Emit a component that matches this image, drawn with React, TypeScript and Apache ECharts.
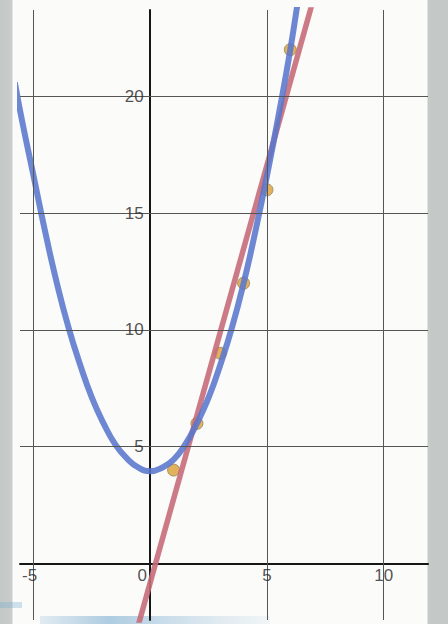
import React, { useEffect, useRef } from "react";
import * as echarts from "echarts";

// Observed data points (x, y)
const pointX = [1, 2, 3, 4, 5, 6];
const pointY = [4, 6, 9, 12, 16, 22];

// Blue fitted curve
const curveX = [-5.8, -5.5, -5, -4.5, -4, -3.5, -3, -2.5, -2, -1.5, -1, -0.5, 0, 0.5, 1, 1.5, 2, 2.5, 3, 3.5, 4, 4.5, 5, 5.5, 6, 6.4];
const curveY = [20.6, 19.0, 16.6, 14.2, 12, 10.1, 8.5, 7.1, 6, 5.1, 4.5, 4.1, 3.95, 4.1, 4.45, 5.1, 6, 7.1, 8.5, 10.1, 12, 14.2, 16.6, 19.2, 22, 24.6];

// Red fitted line
const lineX = [-0.5, 7];
const lineY = [-2.6, 24.2];

// Tick labels / grid lines
const xTicks = [-5, 0, 5, 10];
const yTicks = [5, 10, 15, 20];

const X_MIN = -5.58;
const X_MAX = 11.9;
const Y_MIN = -2.42;
const Y_MAX = 23.7;

export default function App() {
  const ref = useRef<HTMLDivElement>(null);

  useEffect(() => {
    if (!ref.current) return;
    const chart = echarts.init(ref.current, undefined, { renderer: "svg" });
    const font = "Liberation Sans, Arial, sans-serif";
    const labelColor = "#262626";
    const gridLines = [
      ...xTicks.filter((v) => v !== 0).map((v) => ({ xAxis: v })),
      ...yTicks.map((v) => ({ yAxis: v })),
    ];
    chart.setOption({
      animation: false,
      backgroundColor: "transparent",
      grid: { left: 20, right: 20, top: 10, bottom: 4, containLabel: false, outerBoundsMode: "none" },
      xAxis: {
        type: "value",
        min: X_MIN,
        max: X_MAX,
        axisLine: { onZero: true, lineStyle: { color: "#161616", width: 2 } },
        axisTick: { show: false },
        splitLine: { show: false },
        axisLabel: { show: false },
      },
      yAxis: {
        type: "value",
        min: Y_MIN,
        max: Y_MAX,
        axisLine: { onZero: true, lineStyle: { color: "#161616", width: 2 } },
        axisTick: { show: false },
        splitLine: { show: false },
        axisLabel: { show: false },
      },
      graphic: [
        {
          type: "rect",
          shape: { x: 40, y: 616, width: 230, height: 8 },
          style: {
            fill: new echarts.graphic.LinearGradient(0, 0, 1, 0, [
              { offset: 0, color: "rgba(120,170,205,0.2)" },
              { offset: 0.3, color: "rgba(110,165,205,0.55)" },
              { offset: 1, color: "rgba(150,190,215,0.1)" },
            ]),
          },
          z: 0,
        },
        {
          type: "rect",
          shape: { x: 0, y: 602, width: 22, height: 6 },
          style: { fill: "rgba(120,175,210,0.35)" },
          z: 0,
        },
      ],
      series: [
        {
          type: "line",
          data: [],
          z: 0,
          silent: true,
          markLine: {
            silent: true,
            symbol: "none",
            label: { show: false },
            lineStyle: { color: "#555555", width: 1, type: "solid" },
            data: gridLines,
          },
        },
        // x tick labels, placed under the x axis line (y = 0)
        {
          type: "scatter",
          silent: true,
          z: 5,
          symbolSize: 1,
          itemStyle: { color: "transparent" },
          data: xTicks.map((v) => [v, 0]),
          label: {
            show: true,
            position: "bottom",
            distance: 3,
            color: labelColor,
            fontSize: 17,
            fontFamily: font,
            formatter: (p: any) => {
              const v = p.value[0];
              return v === 0 ? "{z|0}" : v === -5 ? "{m|-5}" : String(v);
            },
            rich: {
              z: { fontSize: 17, fontFamily: font, color: labelColor, padding: [0, 16, 0, 0] },
              m: { fontSize: 17, fontFamily: font, color: labelColor, padding: [0, 8, 0, 0] },
            },
          },
        },
        // y tick labels, placed left of the y axis line (x = 0)
        {
          type: "scatter",
          silent: true,
          z: 5,
          symbolSize: 1,
          itemStyle: { color: "transparent" },
          data: yTicks.map((v) => [0, v]),
          label: {
            show: true,
            position: "left",
            distance: 6,
            color: labelColor,
            fontSize: 17,
            fontFamily: font,
            formatter: (p: any) => String(p.value[1]),
          },
        },
        {
          type: "scatter",
          z: 1,
          symbolSize: 12,
          data: pointX.map((x, i) => [x, pointY[i]]),
          itemStyle: { color: "#dfa84a", borderColor: "#9a8a60", borderWidth: 1, opacity: 0.9 },
        },
        {
          type: "line",
          z: 2,
          showSymbol: false,
          data: lineX.map((x, i) => [x, lineY[i]]),
          lineStyle: { color: "#c66c78", width: 5.5, opacity: 0.9 },
        },
        {
          type: "line",
          z: 3,
          showSymbol: false,
          smooth: true,
          data: curveX.map((x, i) => [x, curveY[i]]),
          lineStyle: { color: "#5a76cc", width: 6, opacity: 0.88 },
        },
      ],
    });
    return () => chart.dispose();
  }, []);

  return (
    <div
      ref={ref}
      style={{
        position: "absolute",
        left: 0,
        top: 0,
        width: 448,
        height: 624,
        background:
          "linear-gradient(to right, #c3c7c6 0px, #c9cccb 12px, #fbfbfa 13px, #fbfbfa 427px, #c5c9c8 428px, #c3c7c6 448px)",
      }}
    />
  );
}
